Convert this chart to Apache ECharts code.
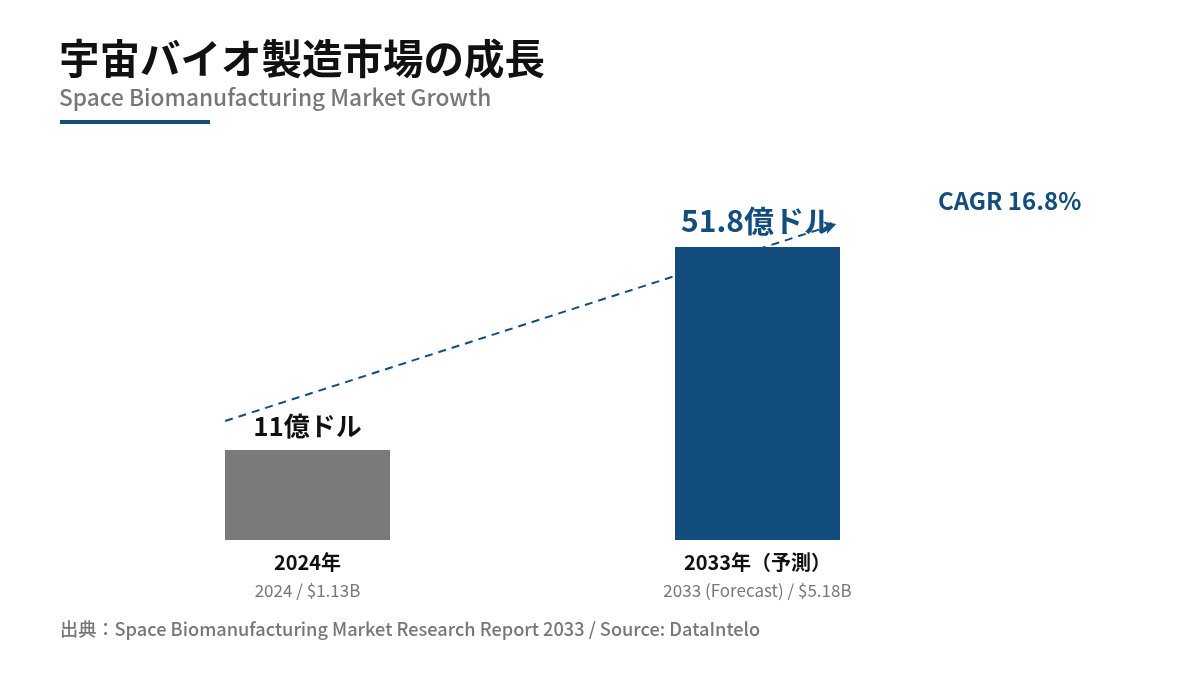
<!DOCTYPE html>
<html>
<head>
<meta charset="utf-8">
<script src="https://cdn.jsdelivr.net/npm/echarts@6/dist/echarts.min.js"></script>
<style>
  html, body { margin: 0; padding: 0; background: #fff; }
  #main { width: 1200px; height: 675px; }
</style>
</head>
<body>
<div id="main"></div>
<script>
// data
const years = ['2024年', '2033年（予測）'];
const subLabels = ['2024 / $1.13B', '2033 (Forecast) / $5.18B'];
const marketSize = [1.13, 5.18];           // USD billion
const valueLabels = ['11億ドル', '51.8億ドル'];
// trend arrow: [position on category index scale, value]
const trendStart = [0.317, 1.71];
const trendEnd = [1.675, 5.64];
const cagrText = 'CAGR 16.8%';

const FONT = '"Noto Sans CJK JP", "Noto Sans", sans-serif';
const BLUE = '#124d7e';
const GRAY = '#7a7a7a';
const Y_MIN = -0.665;   // bars are drawn up from the axis floor

const myChart = echarts.init(document.getElementById('main'));
const chartOpts = {
  backgroundColor: '#fff',
  textStyle: { fontFamily: FONT },
  title: {
    text: '宇宙バイオ製造市場の成長',
    subtext: 'Space Biomanufacturing Market Growth',
    left: 59,
    top: 38,
    padding: 0,
    itemGap: 8,
    textStyle: { fontSize: 40.5, fontWeight: 'bold', color: '#111', fontFamily: FONT },
    subtextStyle: { fontSize: 22.7, fontWeight: 500, color: '#777', fontFamily: FONT }
  },
  graphic: [
    { type: 'rect', left: 60, top: 120, shape: { width: 150, height: 4 }, style: { fill: BLUE } },
    {
      type: 'text', left: 938, top: 189,
      style: { text: cagrText, font: 'bold 24px ' + FONT, fill: BLUE }
    },
    {
      type: 'text', left: 60, top: 620,
      style: {
        text: '出典：Space Biomanufacturing Market Research Report 2033 / Source: DataIntelo',
        font: '500 18.2px ' + FONT, fill: '#777'
      }
    }
  ],
  grid: { left: 82.5, right: 217.5, top: 206, bottom: 135 },
  xAxis: [
    {
      type: 'category',
      data: years,
      axisLine: { show: false },
      axisTick: { show: false },
      axisLabel: {
        margin: 8,
        interval: 0,
        formatter: (v, i) => '{a|' + v + '}\n{b|' + subLabels[i] + '}',
        rich: {
          a: { fontSize: 20, fontWeight: 'bold', color: '#111', lineHeight: 28, fontFamily: FONT },
          b: { fontSize: 17, color: '#777', lineHeight: 30, fontFamily: FONT }
        }
      }
    },
    { type: 'value', min: 0, max: 2, show: false }
  ],
  yAxis: { type: 'value', min: Y_MIN, max: 6, show: false },
  series: [
    {
      type: 'line',
      xAxisIndex: 1,
      data: [],
      z: 1,
      silent: true,
      markLine: {
        silent: true,
        symbol: ['none', 'arrow'],
        symbolSize: [10, 12],
        label: { show: false },
        lineStyle: { type: [8, 6], width: 2, color: BLUE },
        data: [[{ coord: trendStart }, { coord: trendEnd }]]
      }
    },
    {
      type: 'custom',
      z: 3,
      data: marketSize.map((v, i) => [i, v]),
      renderItem: (params, api) => {
        const i = api.value(0);
        const top = api.coord([i, api.value(1)]);
        const base = api.coord([i, Y_MIN]);
        const w = 165;
        const first = params.dataIndex === 0;
        return {
          type: 'rect',
          shape: { x: top[0] - w / 2, y: top[1], width: w, height: base[1] - top[1] },
          style: { fill: first ? GRAY : BLUE },
          textContent: {
            style: {
              text: valueLabels[params.dataIndex],
              font: 'bold ' + (first ? 26 : 30) + 'px ' + FONT,
              fill: first ? '#111' : BLUE
            }
          },
          textConfig: { position: 'top', distance: 11 }
        };
      }
    }
  ],
  animation: false
};
myChart.setOption(chartOpts);
</script>
</body>
</html>
